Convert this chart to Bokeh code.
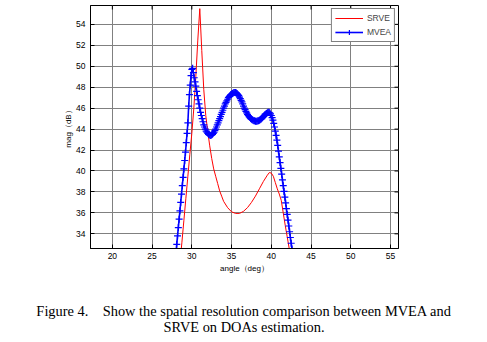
import math
from bokeh.plotting import figure
from bokeh.layouts import column
from bokeh.models import Range1d, FixedTicker, Legend, LegendItem
from bokeh.core.properties import value
from bokeh.embed import file_html
from bokeh.resources import INLINE

# ---------------- data ----------------
angle_srve = [28.5, 28.75, 29.0, 29.25, 29.5, 29.75, 30.0, 30.25, 30.5, 30.75, 31.0,
              31.25, 31.5, 31.75, 32.0, 32.25, 32.5, 32.75, 33.0, 33.25, 33.5, 33.75,
              34.0, 34.5, 35.0, 35.5, 36.0, 36.5, 37.0, 37.5, 38.0, 38.5, 39.0, 39.5,
              39.75, 40.0, 40.25, 40.5, 40.75, 41.0, 41.25, 41.5, 41.75, 42.0, 42.25, 42.5]
mag_srve = [31.2, 33.2, 35.3, 37.4, 39.5, 41.6, 43.6, 46.0, 49.0, 52.5, 55.5,
            51.5, 47.8, 45.3, 43.8, 42.4, 41.2, 40.2, 39.5, 38.8, 38.1, 37.6,
            37.1, 36.5, 36.1, 35.95, 35.95, 36.15, 36.5, 37.0, 37.6, 38.3, 39.0, 39.6,
            39.85, 39.8, 39.5, 38.9, 38.3, 37.8, 37.2, 36.0, 34.8, 33.7, 32.6, 31.6]

angle_mvea = [28.0, 28.1, 28.2, 28.3, 28.4, 28.5, 28.6, 28.7, 28.8, 28.9,
              29.0, 29.1, 29.2, 29.3, 29.4, 29.5, 29.6, 29.7, 29.8, 29.9,
              30.0, 30.1, 30.2, 30.3, 30.4, 30.5, 30.6, 30.7, 30.8, 30.9,
              31.0, 31.1, 31.2, 31.3, 31.4, 31.5, 31.6, 31.7, 31.8, 31.9,
              32.0, 32.1, 32.2, 32.3, 32.4, 32.5, 32.6, 32.7, 32.8, 32.9,
              33.0, 33.1, 33.2, 33.3, 33.4, 33.5, 33.6, 33.7, 33.8, 33.9,
              34.0, 34.1, 34.2, 34.3, 34.4, 34.5, 34.6, 34.7, 34.8, 34.9,
              35.0, 35.1, 35.2, 35.3, 35.4, 35.5, 35.6, 35.7, 35.8, 35.9,
              36.0, 36.1, 36.2, 36.3, 36.4, 36.5, 36.6, 36.7, 36.8, 36.9,
              37.0, 37.1, 37.2, 37.3, 37.4, 37.5, 37.6, 37.7, 37.8, 37.9,
              38.0, 38.1, 38.2, 38.3, 38.4, 38.5, 38.6, 38.7, 38.8, 38.9,
              39.0, 39.1, 39.2, 39.3, 39.4, 39.5, 39.6, 39.7, 39.8, 39.9,
              40.0, 40.1, 40.2, 40.3, 40.4, 40.5, 40.6, 40.7, 40.8, 40.9,
              41.0, 41.1, 41.2, 41.3, 41.4, 41.5, 41.6, 41.7, 41.8, 41.9,
              42.0, 42.1, 42.2, 42.3, 42.4, 42.5, 42.6, 42.7]
mag_mvea = [32.2, 33.0, 33.8, 34.6, 35.4, 36.2, 37.0, 37.8, 38.6, 39.4,
            40.2, 41.0, 41.8, 42.7, 43.6, 44.6, 46.2, 47.3, 48.2, 49.1,
            49.7, 49.8, 49.4, 48.9, 48.5, 48.1, 47.6, 47.2, 46.8, 46.4,
            46.0, 45.6, 45.3, 45.0, 44.7, 44.4, 44.2, 44.0, 43.8, 43.7,
            43.6, 43.5, 43.45, 43.4, 43.4, 43.45, 43.5, 43.6, 43.7, 43.85,
            44.0, 44.2, 44.4, 44.6, 44.8, 45.0, 45.2, 45.4, 45.6, 45.8,
            46.0, 46.2, 46.4, 46.55, 46.7, 46.85, 47.0, 47.1, 47.2, 47.3,
            47.35, 47.4, 47.45, 47.5, 47.5, 47.5, 47.45, 47.4, 47.3, 47.2,
            47.05, 46.9, 46.75, 46.6, 46.4, 46.2, 46.0, 45.85, 45.7, 45.55,
            45.4, 45.3, 45.2, 45.1, 45.0, 44.95, 44.9, 44.85, 44.8, 44.8,
            44.75, 44.75, 44.75, 44.8, 44.8, 44.85, 44.9, 44.95, 45.0, 45.1,
            45.2, 45.3, 45.4, 45.45, 45.5, 45.55, 45.6, 45.6, 45.55, 45.45,
            45.3, 45.1, 44.85, 44.55, 44.2, 43.8, 43.4, 42.95, 42.45, 41.9,
            41.35, 40.8, 40.25, 39.7, 39.15, 38.6, 38.05, 37.5, 36.95, 36.4,
            35.85, 35.3, 34.75, 34.2, 33.65, 33.1, 32.55, 32.0]

x_ticks = [20, 25, 30, 35, 40, 45, 50, 55]
y_ticks = [34, 36, 38, 40, 42, 44, 46, 48, 50, 52, 54]

series_names = ["SRVE", "MVEA"]
x_label = "angle\uff08deg\uff09"
y_label = "mag\uff08dB\uff09"
caption_lines = ["Figure 4.\u00a0\u00a0\u00a0\u00a0Show the spatial resolution comparison between MVEA and",
                 "SRVE on DOAs estimation."]

# ---------------- chart ----------------
FONT = "Liberation Sans"
x_rng = Range1d(17.25, 56.0)
y_rng = Range1d(32.6, 55.8)
p = figure(width=487, height=290, output_backend="svg", toolbar_location=None,
           x_range=x_rng, y_range=y_rng,
           min_border_left=90, min_border_right=89, min_border_top=5,
           min_border_bottom=42)
p.frame_align = False
p.background_fill_color = "white"
p.border_fill_color = "white"
p.outline_line_color = "black"
p.outline_line_width = 1

for ax in (p.xaxis[0], p.yaxis[0]):
    ax.major_tick_in = 4
    ax.major_tick_out = 0
    ax.minor_tick_in = 0
    ax.minor_tick_out = 0
    ax.axis_line_color = "black"
    ax.major_tick_line_color = "black"
    ax.major_label_text_font = FONT
    ax.major_label_text_font_size = "8.5px"
    ax.major_label_text_color = "black"
    ax.axis_label_text_font = FONT
    ax.axis_label_text_font_size = "8px"
    ax.axis_label_text_font_style = "normal"
    ax.axis_label_text_color = "black"

p.xaxis[0].ticker = FixedTicker(ticks=x_ticks)
p.yaxis[0].ticker = FixedTicker(ticks=y_ticks)
p.xaxis[0].axis_label = x_label
p.yaxis[0].axis_label = y_label
p.xaxis[0].major_label_standoff = 4
p.xaxis[0].axis_label_standoff = 2
p.yaxis[0].major_label_standoff = 5
p.yaxis[0].axis_label_standoff = 0

p.xgrid.grid_line_color = "#808080"
p.ygrid.grid_line_color = "#808080"
p.xgrid.grid_line_width = 1
p.ygrid.grid_line_width = 1

# inward tick marks on the top and right edges (clipped to the frame)
p.scatter(x_ticks, [y_rng.end] * len(x_ticks), marker="dash", angle=math.pi / 2,
          size=8, line_color="black", line_width=1)
p.scatter([x_rng.end] * len(y_ticks), y_ticks, marker="dash",
          size=8, line_color="black", line_width=1)

r_red = p.line(angle_srve, mag_srve, line_color="#FF0000", line_width=1)
r_blue = p.line(angle_mvea, mag_mvea, line_color="#0000FF", line_width=1.6)
r_cross = p.scatter(angle_mvea, mag_mvea, marker="cross", size=7,
                    line_color="#0000FF", line_width=1.2)

legend = Legend(items=[LegendItem(label=series_names[0], renderers=[r_red]),
                       LegendItem(label=series_names[1], renderers=[r_blue, r_cross])],
                location="top_right")
legend.margin = 3
legend.padding = 3
legend.spacing = 2
legend.glyph_width = 28
legend.glyph_height = 12
legend.label_height = 12
legend.label_standoff = 4
legend.label_text_font = FONT
legend.label_text_font_size = "8.5px"
legend.border_line_color = "black"
legend.border_line_width = 1
legend.background_fill_color = "white"
legend.background_fill_alpha = 1
p.add_layout(legend)

# ---------------- caption strip (pixel-like coordinates) ----------------
cap = figure(width=487, height=52, output_backend="svg", toolbar_location=None,
             x_range=Range1d(0, 487), y_range=Range1d(0, 52),
             x_axis_type=None, y_axis_type=None,
             min_border=0, min_border_left=0, min_border_right=0,
             min_border_top=0, min_border_bottom=0)
cap.frame_align = False
cap.outline_line_color = None
cap.xgrid.visible = False
cap.ygrid.visible = False
cap.background_fill_color = "white"
cap.border_fill_color = "white"
cap.text(x=[243.5, 243.5], y=[32, 16], text=caption_lines,
         text_align="center", text_baseline="middle",
         text_font=value("Liberation Serif"), text_font_size="14.4px",
         text_color="black")

layout = column(p, cap, spacing=0)
open("out.html", "w").write(file_html(layout, INLINE))
